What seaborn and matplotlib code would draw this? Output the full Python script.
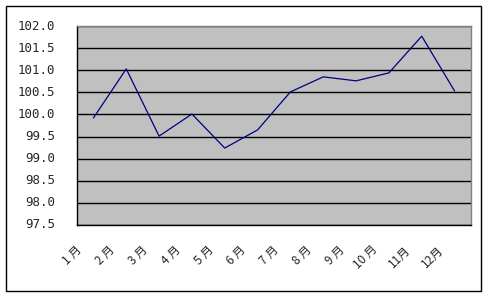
import matplotlib
matplotlib.use("Agg")
import matplotlib.pyplot as plt
import matplotlib.transforms as mtransforms
from matplotlib.patches import Rectangle
import seaborn as sns
import pandas as pd
import numpy as np

months = ["1 月", "2 月", "3 月", "4 月", "5 月", "6 月", "7 月", "8 月", "9 月", "10 月", "11月", "12月"]
values = [99.92, 101.03, 99.51, 100.01, 99.24, 99.65, 100.51, 100.85, 100.76, 100.94, 101.77, 100.53]
yticks = [97.5, 98.0, 98.5, 99.0, 99.5, 100.0, 100.5, 101.0, 101.5, 102.0]

sns.set_style("white")
plt.rcParams['font.family'] = ['Noto Sans CJK JP', 'DejaVu Sans']

W, H = 487, 296
fig = plt.figure(figsize=(W / 100, H / 100), dpi=100)
fig.patch.set_facecolor("white")
ax = fig.add_axes([77 / W, (H - 225) / H, (471 - 77) / W, (225 - 26) / H])
ax.set_facecolor("#C0C0C0")

df = pd.DataFrame({"month": months, "value": values})
df["pos"] = np.arange(len(months))
sns.lineplot(data=df, x="pos", y="value", sort=False, color="#000080", lw=0.9, ax=ax)

ax.set_xlim(-0.5, len(months) - 0.5)
ax.set_ylim(yticks[0], yticks[-1])
ax.set_yticks(yticks)
ax.tick_params(axis="y", length=0, labelleft=False)
yoff = mtransforms.ScaledTranslation(-22 / 100, 0, fig.dpi_scale_trans)
ytrans = ax.get_yaxis_transform() + yoff
for v in yticks:
    ax.axhline(v, color="black", lw=1, zorder=1)
    ax.text(0, v, f"{v:.1f}", transform=ytrans, ha="right", va="center",
            family="DejaVu Sans Mono", fontsize=9, clip_on=False)

ax.set_xticks(df["pos"])
ax.set_xticklabels(months, rotation=45, ha="right", va="top", fontsize=8.5)
ax.tick_params(axis="x", which="major", length=0, pad=13)
ax.set_xticks(np.arange(0.5, len(months) - 1, 1), minor=True)
ax.tick_params(axis="x", which="minor", direction="in", length=3, width=1, color="black")
offset = mtransforms.ScaledTranslation(-9 / 100, 0, fig.dpi_scale_trans)
for lab in ax.get_xticklabels():
    lab.set_transform(lab.get_transform() + offset)

ax.set_xlabel("")
ax.set_ylabel("")
for side in ["left", "bottom"]:
    ax.spines[side].set_color("black")
    ax.spines[side].set_linewidth(1)
for side in ["top", "right"]:
    ax.spines[side].set_color("#808080")
    ax.spines[side].set_linewidth(1)
    ax.spines[side].set_visible(True)

fig.patches.append(Rectangle((5.5 / W, (H - 290.5) / H), 475 / W, 285 / H,
                             transform=fig.transFigure, fill=False,
                             edgecolor="black", lw=1))

fig.savefig("out.png", dpi=100)
